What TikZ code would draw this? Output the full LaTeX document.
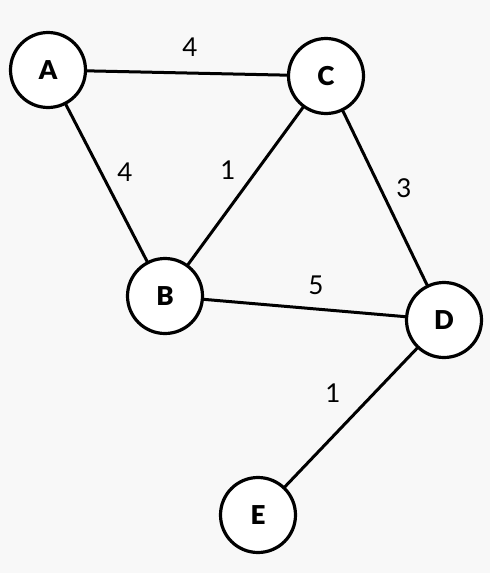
\documentclass[tikz,border=0pt]{standalone}
\usepackage{fontspec}
\setmainfont{Lato}
\newfontfamily\heavyfont{Lato Black}
\definecolor{bggray}{RGB}{248,248,248}
\begin{document}
\begin{tikzpicture}[x=1pt,y=-1pt,line join=round,line cap=round,font=\fontsize{26}{30}\selectfont]
	\tikzset{vert/.style={circle,draw,line width=3.2pt,fill=white,minimum size=75pt,inner sep=0pt,font=\fontsize{26}{30}\heavyfont},
		wlab/.style={inner sep=0pt}}
	\fill[bggray] (0,0) rectangle (490,573);
	\useasboundingbox (0,0) rectangle (490,573);
	\foreach \n/\x/\y in {A/48/70,C/326/76,B/165/296,D/444/320,E/258/515}
	\node[vert] (\n) at (\x,\y) {\n};
	% edges with weights
	\foreach \u/\v/\w/\lx/\ly in {A/C/4/190/47,A/B/4/125/172,B/C/1/228/170,C/D/3/404/188,B/D/5/316/285,D/E/1/333/393}
	\draw[line width=3pt] (\u) -- (\v) node[wlab] (w\u\v) at (\lx,\ly) {\w};
\end{tikzpicture}
\end{document}
